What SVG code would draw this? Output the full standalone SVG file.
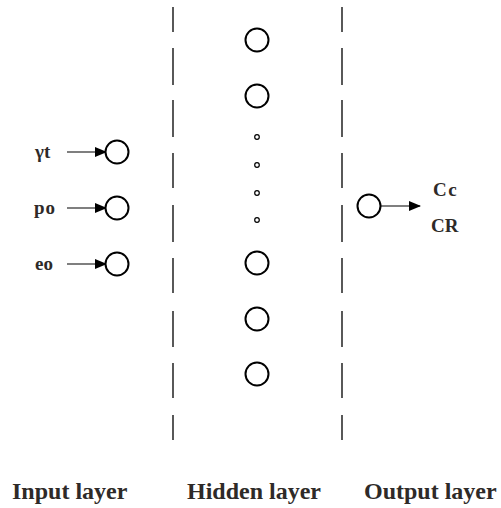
<svg xmlns="http://www.w3.org/2000/svg" width="501" height="508" viewBox="0 0 501 508">
<style>
.node{fill:#fff;stroke:#000;stroke-width:2}
.dot{fill:#fff;stroke:#000;stroke-width:1.2}
.dash{stroke:#000;stroke-width:1.3}
.arr{stroke:#555;stroke-width:1.3;fill:none;marker-end:url(#ah)}
.lbl{font-family:"Liberation Serif",serif;font-weight:bold;fill:#2e2a28}
.in{font-size:19px}
.bt{font-size:24px}
</style>
<defs>
<marker id="ah" markerWidth="12" markerHeight="10" refX="11" refY="5" orient="auto" markerUnits="userSpaceOnUse">
<path d="M0,0 L12,5 L0,10 Z" fill="#000"/>
</marker>
</defs>
<rect width="501" height="508" fill="#fff"/>
<g id="dividers">
<path class="dash" d="M173,7V32M173,48V85M173,100V137M173,153V188M173,205V242M173,258V293M173,311V347M173,363V398M173,415V440"/>
<path class="dash" d="M342,7V32M342,48V85M342,100V137M342,153V188M342,205V242M342,258V293M342,311V347M342,363V398M342,415V440"/>
</g>
<g id="connectors">
<line class="arr" x1="67" y1="152" x2="106" y2="152"/>
<line class="arr" x1="67" y1="208" x2="106" y2="208"/>
<line class="arr" x1="67" y1="264" x2="106" y2="264"/>
<line class="arr" x1="381" y1="206" x2="420" y2="206"/>
</g>
<g id="input1"><text class="lbl in" x="35" y="158">γt</text><circle class="node" cx="117" cy="152" r="11.5"/></g>
<g id="input2"><text class="lbl in" x="34" y="214" letter-spacing="1">po</text><circle class="node" cx="117" cy="208" r="11.5"/></g>
<g id="input3"><text class="lbl in" x="35" y="270">eo</text><circle class="node" cx="117" cy="264" r="11.5"/></g>
<g id="hidden1"><circle class="node" cx="257" cy="40" r="11.5"/></g>
<g id="hidden2"><circle class="node" cx="257" cy="96" r="11.5"/></g>
<g id="hiddenDots">
<circle class="dot" cx="257" cy="137" r="2.3"/>
<circle class="dot" cx="257" cy="165" r="2.3"/>
<circle class="dot" cx="257" cy="193" r="2.3"/>
<circle class="dot" cx="257" cy="220" r="2.3"/>
</g>
<g id="hidden3"><circle class="node" cx="257" cy="263" r="11.5"/></g>
<g id="hidden4"><circle class="node" cx="257" cy="319" r="11.5"/></g>
<g id="hidden5"><circle class="node" cx="257" cy="374" r="11.5"/></g>
<g id="output"><circle class="node" cx="369" cy="206" r="11.5"/>
<text class="lbl in" x="433" y="196" letter-spacing="1.5">Cc</text>
<text class="lbl in" x="431" y="232">CR</text></g>
<g id="labels">
<text class="lbl bt" x="12" y="499">Input layer</text>
<text class="lbl bt" x="187" y="499">Hidden layer</text>
<text class="lbl bt" x="364" y="499">Output layer</text>
</g>
</svg>
